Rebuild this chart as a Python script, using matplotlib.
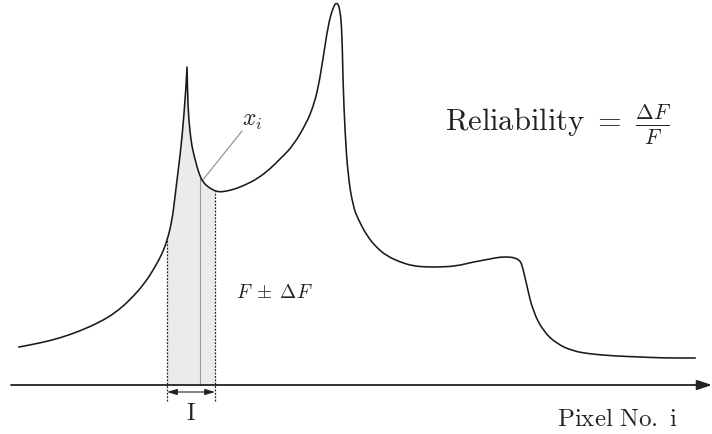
import numpy as np
import matplotlib.pyplot as plt
from matplotlib.path import Path

plt.rcParams['mathtext.fontset'] = 'cm'
plt.rcParams['font.family'] = 'serif'
plt.rcParams['font.serif'] = ['DejaVu Serif']

# intensity profile along the pixel row (x = pixel no., y = 386 - row)
pixel = [19, 40, 60, 80, 100, 115, 130, 145, 155, 162, 167, 172, 175, 178, 180, 182, 184, 186, 187, 187,
         188, 190, 192, 195, 197, 200, 203, 208, 215, 220, 227, 235, 245, 257, 270,
         280, 293, 307, 313, 318, 323, 328, 333, 337, 340, 342, 343, 345, 348, 353, 358,
         367, 377, 387, 400, 413, 427, 440, 457, 473, 490, 500, 510, 515, 519, 522,
         527, 533, 543, 557, 573, 590, 615, 640, 665, 695]
row = [348, 344, 339, 332, 323, 314, 301, 284, 268, 255, 242, 222, 198, 172, 157, 138, 115, 88, 68, 68,
       110, 133, 148, 160, 168, 177, 183, 188, 192, 193, 192, 190, 186, 180, 170,
       160, 147, 123, 108, 90, 60, 27, 8, 3, 10, 33, 83, 133, 177, 207, 220,
       237, 249, 257, 263, 267, 268, 268, 267, 263, 260, 258, 258, 259, 261, 265,
       288, 312, 332, 345, 352, 355, 357, 358, 359, 359]
base = 386
intensity = [base - r for r in row]

win_lo, win_hi, x_i = 167, 215, 200


def smooth_profile(xs, ys):
    # quadratic B-spline through the sample polygon, flattened by matplotlib
    pts = np.column_stack([xs, ys]).astype(float)
    mids = (pts[:-1] + pts[1:]) / 2
    verts = [pts[0], mids[0]]
    codes = [Path.MOVETO, Path.LINETO]
    for i in range(1, len(pts) - 1):
        verts += [pts[i], mids[i]]
        codes += [Path.CURVE3, Path.CURVE3]
    verts.append(pts[-1])
    codes.append(Path.LINETO)
    poly = Path(verts, codes).to_polygons(closed_only=False)[0]
    return poly[:, 0], poly[:, 1]


fig = plt.figure(figsize=(7.12, 4.35), dpi=100)
ax = fig.add_axes([0, 0, 1, 1])
ax.set_xlim(0, 712)
ax.set_ylim(base - 435, base)
ax.axis('off')

cx, cy = smooth_profile(pixel, intensity)

# shaded integration window I
m = (cx >= win_lo) & (cx <= win_hi)
fx = np.concatenate([[win_lo], cx[m], [win_hi]])
fy = np.concatenate([[np.interp(win_lo, cx, cy)], cy[m], [np.interp(win_hi, cx, cy)]])
ax.fill_between(fx, 0, fy, color='#ebebeb', lw=0, zorder=1)

ax.plot(cx, cy, color='#1a1a1a', lw=1.15, zorder=3, solid_joinstyle='round')

# window borders and the centre pixel
ax.plot([win_lo, win_lo], [-16, fy[0]], color='#222', lw=0.9, ls=(0, (1.5, 1.2)), zorder=2)
ax.plot([win_hi, win_hi], [-16, fy[-1]], color='#222', lw=0.9, ls=(0, (1.5, 1.2)), zorder=2)
ax.plot([x_i, x_i], [0, np.interp(x_i, cx, cy)], color='#9a9a9a', lw=0.8, zorder=2)

# leader to x_i label
ax.plot([202, 242], [base - 182, base - 132], color='#8a8a8a', lw=0.8)
ax.text(252, base - 120, r'$x_i$', fontsize=17, ha='center', va='center', color='#222')

# pixel axis
ax.annotate('', xy=(712, 0), xytext=(11, 0),
            arrowprops=dict(arrowstyle='-|>,head_length=0.9,head_width=0.3',
                            color='#222', lw=1.3, shrinkA=0, shrinkB=0))

# width of window I
ax.annotate('', xy=(win_hi, -7), xytext=(win_lo, -7),
            arrowprops=dict(arrowstyle='<|-|>,head_length=0.6,head_width=0.18',
                            color='#222', lw=0.8, shrinkA=0, shrinkB=0))
ax.text((win_lo + win_hi) / 2, -28, r'$\mathrm{I}$', fontsize=17,
        ha='center', va='center', color='#222')

ax.text(274, base - 293, r'$F\;\pm\;\Delta F$', fontsize=14, ha='center', va='center', color='#222')
ax.text(445, base - 125, r'$\mathrm{Reliability}\ =\ \frac{\Delta F}{F}$', fontsize=22,
        ha='left', va='center', color='#222')
ax.text(617, -34, r'$\mathrm{Pixel\ No.\ i}$', fontsize=18, ha='center', va='center', color='#222')

fig.savefig('out.png', dpi=100)
